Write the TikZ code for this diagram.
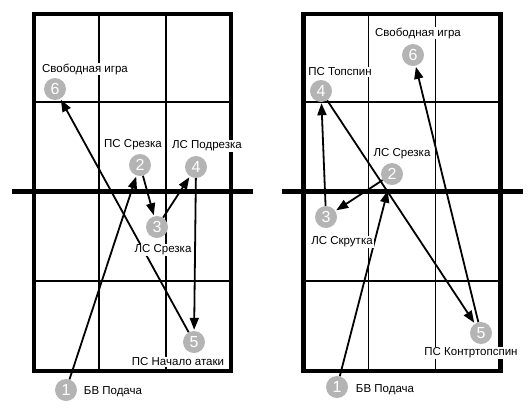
\documentclass[tikz,border=0pt]{standalone}
\usepackage{fontspec}
\setmainfont{Liberation Sans}
\usetikzlibrary{arrows.meta}
\definecolor{ballgray}{HTML}{B4B4B4}
\tikzset{
  ball/.style={circle, fill=ballgray, text=white, inner sep=0pt, minimum size=22pt,
    font=\fontsize{16}{16}\selectfont},
  tag/.style={fill=white, inner sep=1pt, font=\fontsize{11.5}{13}\selectfont},
  hit/.style={-{Triangle[length=12pt,width=9pt]}, line width=1.8pt, shorten >=1pt},
}
\begin{document}
\begin{tikzpicture}[x=1pt,y=-1pt]
\useasboundingbox (0,0) rectangle (529,413);
% two courts
\foreach \ox in {0,269.5}{
  \draw[line width=1.4pt] (\ox+99,14) -- (\ox+99,371) (\ox+166,14) -- (\ox+166,371)
    (\ox+34,102) -- (\ox+231,102) (\ox+34,281) -- (\ox+231,281);
  \draw[line width=4.8pt] (\ox+34,14) rectangle (\ox+231,371);
  \draw[line width=5pt] (\ox+12,191.5) -- (\ox+253,191.5);
}
% left rally
\node[ball] (L1) at (66,390) {1};
\node[ball] (L2) at (140,165) {2};
\node[ball] (L3) at (157,227) {3};
\node[ball] (L4) at (196,167) {4};
\node[ball] (L5) at (194,342) {5};
\node[ball] (L6) at (55,89) {6};
\draw[hit] (L1) -- (L2);
\draw[hit] (L2) -- (L3);
\draw[hit] (L3) -- (L4);
\draw[hit] (L4) -- (L5);
\draw[hit] (L5) -- (L6);
\node[tag] (tL6) at (85,69) {Свободная игра};
\node[tag] (tL2) at (133,145) {ПС Срезка};
\node[tag] (tL4) at (207,146) {ЛС Подрезка};
\node[tag] (tL3) at (163,250) {ЛС Срезка};
\node[tag] (tL5) at (178,362) {ПС Начало атаки};
\node[tag] (tL1) at (113,392) {БВ Подача};
% right rally
\node[ball] (R1) at (337,387) {1};
\node[ball] (R2) at (392,174) {2};
\node[ball] (R3) at (326,217) {3};
\node[ball] (R4) at (321,91) {4};
\node[ball] (R5) at (481,333) {5};
\node[ball] (R6) at (413,55) {6};
\draw[hit, shorten >=6pt] (R1) -- (R2);
\draw[hit] (R2) -- (R3);
\draw[hit] (R3) -- (R4);
\draw[hit] (R4) -- (R5);
\draw[hit] (R5) -- (R6);
\node[tag] (tR6) at (418,33) {Свободная игра};
\node[tag] (tR4) at (340,72) {ПС Топспин};
\node[tag] (tR2) at (402,154) {ЛС Срезка};
\node[tag] (tR3) at (342,242) {ЛС Скрутка};
\node[tag] (tR5) at (471,353) {ПС Контртопспин};
\node[tag] (tR1) at (385,390) {БВ Подача};
\end{tikzpicture}
\end{document}
